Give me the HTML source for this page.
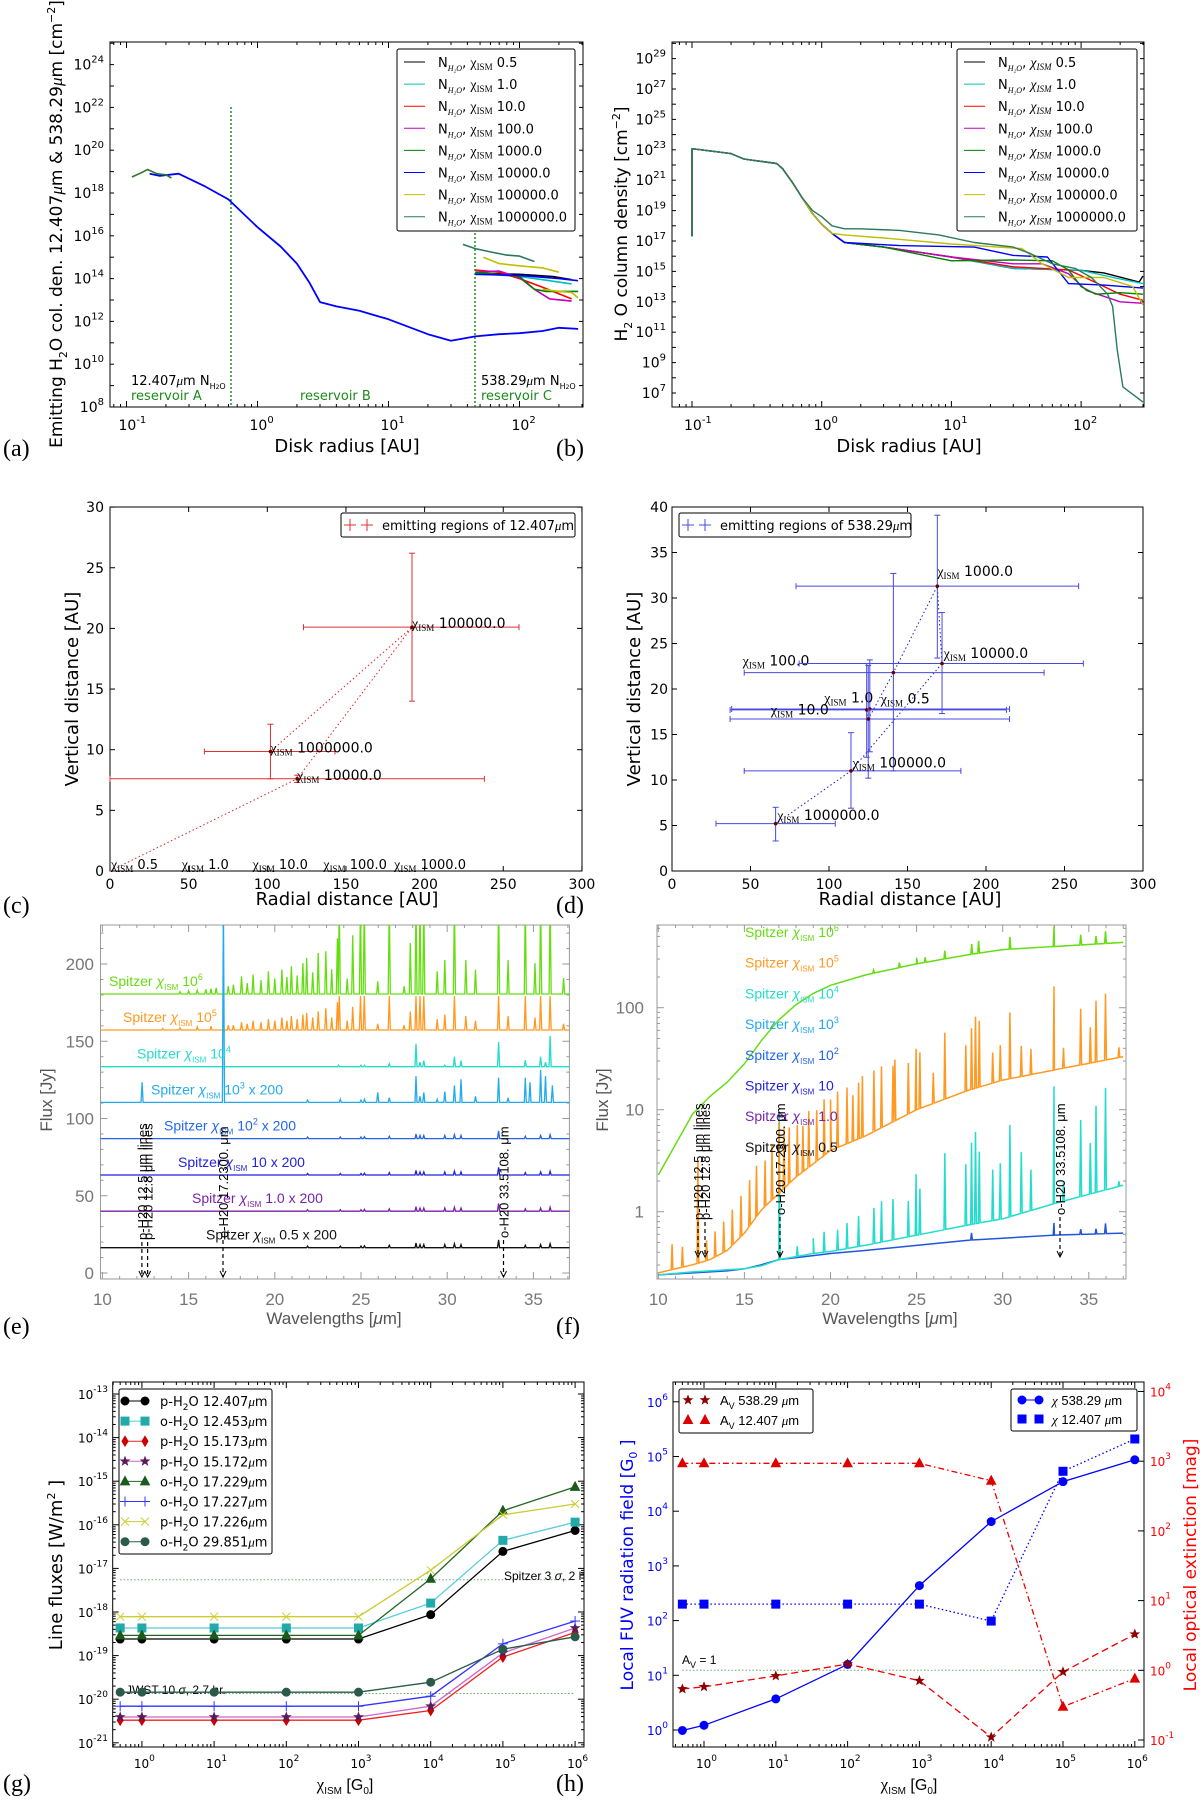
<!DOCTYPE html>
<html><head><meta charset="utf-8"><title>H2O emission figure</title>
<style>
html,body{margin:0;padding:0;background:#fff;}
svg{display:block;font-family:"DejaVu Sans","Liberation Sans",sans-serif;}
.idl{font-family:"Liberation Sans","DejaVu Sans",sans-serif;}
.ser{font-family:"Liberation Serif","DejaVu Serif",serif;}
</style></head>
<body>
<svg id="fig" xmlns="http://www.w3.org/2000/svg" width="1200" height="1801" viewBox="0 0 1200 1801">
<defs>
<clipPath id="clipA"><rect x="110" y="42" width="473" height="365"/></clipPath>
<clipPath id="clipB"><rect x="672" y="42" width="472" height="365"/></clipPath>
<clipPath id="clipE"><rect x="100.5" y="925" width="469" height="354"/></clipPath>
<clipPath id="clipF"><rect x="657" y="925" width="469" height="354"/></clipPath>
</defs>
</svg>
<script>
// ---------------- DATA ----------------
// Panel (a)
const aBlueR=[0.15,0.18,0.25,0.4,0.6,1,1.5,2,2.5,3,4,6,10,20,30,46,70,100,150,200,280];
const aBlueLogN=[18.9,18.8,18.9,18.3,17.7,16.4,15.5,14.7,13.8,12.9,12.7,12.5,12.1,11.4,11.1,11.3,11.4,11.45,11.55,11.7,11.65];
const aGreenR=[0.11,0.13,0.145,0.17,0.2,0.22];
const aGreenLogN=[18.75,18.95,19.1,18.9,18.85,18.7];
const aTealR=[37,46,60,80,100,130];   const aTealLogN=[15.6,15.4,15.25,15.1,15.05,14.8];
const aYellowR=[53,70,100,150,200];   const aYellowLogN=[15.0,14.7,14.6,14.5,14.3];
const aYellow2R=[150,200,250,280];     const aYellow2LogN=[13.5,13.4,13.35,13.1];
const aRedR=[46,70,100,150,250];      const aRedLogN=[14.4,14.3,14.0,13.6,13.05];
const aMagR=[46,70,100,130,170,250];  const aMagLogN=[14.3,14.35,14.05,13.5,13.05,12.95];
const aBlackR=[46,100,180,250];       const aBlackLogN=[14.25,14.2,14.1,13.95];
const aCyanR=[46,100,150,250];        const aCyanLogN=[14.25,14.1,13.95,13.75];
const aBlue2R=[46,100,200,280];       const aBlue2LogN=[14.2,14.15,14.0,13.9];
const aGreen2R=[46,100,130,160,280];  const aGreen2LogN=[14.3,14.1,13.5,13.4,13.4];
// Panel (b)
const bCommonR=[0.1,0.1,0.2,0.25,0.3,0.45,0.5,0.6,0.7,0.85,1.0,1.2];
const bCommonLogN=[17.3,23.07,22.75,22.4,22.3,22.1,21.75,20.8,19.9,18.8,18.1,17.5];
const bBlackR=[1.5,3,10,30,100,150,280,300];        const bBlackLogN=[16.9,16.6,15.95,15.2,15.07,14.9,14.3,14.7];
const bCyanR=[1.5,3,10,30,100,200,300];             const bCyanLogN=[16.9,16.6,15.95,15.2,15.07,14.5,14.2];
const bRedR=[1.5,3,10,30,80,120,200,300];           const bRedLogN=[16.9,16.6,15.95,15.3,15.1,14.4,13.5,13.1];
const bMagR=[1.5,3,10,30,50,80,110,200,300];        const bMagLogN=[16.9,16.6,15.95,15.5,15.5,14.85,13.75,13.0,12.9];
const bGreenR=[1.5,3,10,30,60,80,100,130,200,300];  const bGreenLogN=[16.9,16.6,15.7,15.75,15.7,15.1,14.0,13.5,13.6,13.5];
const bBlueR=[1.5,4,15,30,55,80,150,300];           const bBlueLogN=[16.9,16.7,16.6,16.05,15.95,14.2,14.1,13.9];
const bYellowR=[1.5,3,10,35,50,80,150,250,300];     const bYellowLogN=[17.4,17.2,16.8,16.5,15.5,14.6,14.6,14.0,12.8];
const bTealR=[0.85,1.0,1.2,1.5,2,4,8,15,30,40,60,90,120,160,175,190,210,300];
const bTealLogN=[19.0,18.6,18.0,17.8,17.8,17.7,17.4,16.9,16.6,16.2,15.5,15.2,14.6,13.5,12.7,9.8,7.4,6.4];
// Panel (c)
const cLabels=["1000000.0","10000.0","100000.0"];
const cX=[102,119,192], cY=[9.85,7.6,20.1];
const cXlo=[60,0,123], cXhi=[143,238,260], cYlo=[7.6,7.3,14.0], cYhi=[12.1,7.9,26.2];
const cPathX=[0,119,192,102], cPathY=[0,7.6,20.1,9.85];
const cZeroLabels=["0.5","1.0","10.0","100.0","1000.0"];
const cZeroX=[0,45,90,135,180];
// Panel (d)
const dLabels=["0.5","1.0","10.0","100.0","1000.0","10000.0","100000.0","1000000.0"];
const dX=[126,124,125,141,169,172,114,66];
const dY=[17.8,17.7,16.7,21.8,31.3,22.8,11.0,5.2];
const dXlo=[38,37,37,46,79,81,46,28], dXhi=[215,213,215,237,259,262,184,104];
const dYlo=[13.1,12.5,10.2,11.0,23.4,17.3,6.9,3.3], dYhi=[23.2,22.8,22.6,32.7,39.1,28.4,15.2,7.0];
const dLabX=[133,97,63,45,169,173,115,67], dLabY=[18.4,18.5,17.2,22.6,32.4,23.4,11.4,5.6];
// Panel (e) : [wavelength, amplitude Jy]
const eGreenLines=[[14.5,1.5],[15,2],[15.5,2.5],[16,3],[16.3,3.5],[16.6,4],[17.3,5],[17.6,6],[18.07,11.4],[18.4,7],[18.74,12.5],[19.2,9],[19.63,14.7],[20.0,10],[20.41,15.7],[20.7,11],[20.96,17.9],[21.3,12],[21.63,20],[21.85,23.3],[22.2,14],[22.52,26.5],[22.96,27.6],[23.3,16],[23.63,36],[23.74,60],[24.2,10],[24.52,38],[24.97,60],[25.19,60],[25.97,8.2],[26.64,60],[27.5,5],[27.86,33],[28.19,60],[28.42,60],[28.64,60],[29.42,14.7],[29.86,22],[30.42,60],[31.08,22],[31.64,15.7],[32.98,60],[33.53,22],[34.53,60],[35.09,20],[35.42,60],[35.97,60],[36.75,10.3]];
const eOrangeLines=[[13.5,1],[14.5,1.5],[15.5,2],[16.3,2.5],[17.3,3],[17.6,3],[18.07,5],[18.4,4],[18.74,6],[19.2,5],[19.63,7],[20.0,6],[20.41,8],[20.7,6],[20.96,9],[21.3,7],[21.63,10],[21.85,11],[22.2,8],[22.52,12],[22.96,14],[23.3,8],[23.63,18],[23.74,22],[24.2,6],[24.52,15],[24.97,22],[25.19,22],[25.97,4],[26.64,22],[27.5,3],[27.86,12],[28.19,22],[28.42,22],[28.64,22],[29.42,7],[29.86,10],[30.42,22],[31.08,9],[31.64,6],[32.98,22],[33.53,9],[34.53,22],[35.09,8],[35.42,22],[35.97,22],[36.75,4]];
const eTurqLines=[[23.7,1],[25.0,1],[25.2,1],[26.64,2],[28.19,15],[28.42,3],[28.64,4],[29.86,1],[30.42,6.5],[30.8,4],[32.98,16],[34.53,4.3],[35.42,6.5],[35.7,3],[35.97,20]];
const eLBlueLines=[[12.3,13],[17.02,130],[21.9,1.5],[23.8,2],[25.0,1.5],[25.2,2],[25.97,6.5],[26.64,3],[28.19,17],[28.42,4],[28.64,6.5],[29.42,2],[29.86,7],[30.42,11],[30.8,15],[31.64,4],[32.98,16],[33.53,3],[34.53,16],[34.8,13],[35.42,21],[35.7,17],[36.1,11]];
const eWeakLines=[[21.9,1],[23.8,1],[25.0,1],[25.2,1.2],[26.64,1.5],[28.19,3],[28.42,2],[28.64,2],[29.86,2],[30.42,2.5],[30.8,2],[32.98,5],[34.53,1.5],[35.42,2],[35.97,2.5]];
const eBaselines=[180.6,157.3,133.5,110.4,87,63.4,40,16.4];
// Panel (f)
const fContWl=[10,12,13,14,15,16,17,18,19,20,22,25,28,30,33,37];
const fGreenLog=[0.36,0.96,1.13,1.27,1.45,1.68,1.88,2.03,2.14,2.22,2.32,2.43,2.52,2.57,2.60,2.64];
const fOrangeLog=[-0.6,-0.52,-0.47,-0.38,-0.21,0.02,0.18,0.34,0.47,0.6,0.74,1.0,1.19,1.29,1.39,1.52];
const fTurqLog=[-0.62,-0.59,-0.58,-0.57,-0.56,-0.53,-0.47,-0.44,-0.41,-0.39,-0.33,-0.23,-0.13,-0.07,0.08,0.26];
const fBlueLog=[-0.62,-0.6,-0.59,-0.58,-0.56,-0.52,-0.47,-0.45,-0.43,-0.41,-0.38,-0.33,-0.28,-0.26,-0.23,-0.21];
const fGreenLines=[[22.5,0.03],[24,0.05],[25,0.06],[25.5,0.05],[26.64,0.08],[28.2,0.1],[28.6,0.12],[30.42,0.12],[32.98,0.2],[34.53,0.1],[35.42,0.08],[35.97,0.12]];
const fOrangeLines=[[10.8,0.25],[11.4,0.2],[12.3,1.0],[12.8,0.2],[13.3,0.25],[13.8,0.3],[14.3,0.35],[14.8,0.4],[15.3,0.45],[15.7,0.5],[16.2,0.45],[16.6,0.55],[17.0,0.7],[17.3,0.6],[17.6,0.55],[18.07,0.5],[18.4,0.45],[18.74,0.55],[19.2,0.5],[19.63,0.55],[20.0,0.5],[20.41,0.55],[20.96,0.55],[21.3,0.45],[21.63,0.55],[21.85,0.6],[22.52,0.6],[22.96,0.6],[23.63,0.55],[23.74,0.6],[24.52,0.5],[24.97,0.6],[25.19,0.55],[25.97,0.3],[26.64,0.65],[27.86,0.45],[28.19,0.6],[28.42,0.7],[28.64,0.65],[29.42,0.3],[29.86,0.35],[30.42,0.65],[31.08,0.3],[31.64,0.25],[32.98,0.82],[33.53,0.2],[34.53,0.55],[35.09,0.35],[35.42,0.6],[35.97,0.65],[36.75,0.1]];
const fTurqLines=[[17.02,1.45],[18.07,0.1],[19.0,0.15],[19.63,0.2],[20.41,0.2],[20.96,0.25],[21.63,0.3],[22.52,0.35],[22.96,0.4],[23.63,0.4],[24.52,0.35],[24.97,0.6],[25.19,0.45],[26.64,0.75],[27.86,0.6],[28.19,0.8],[28.42,0.9],[28.64,0.7],[29.42,0.5],[29.86,0.55],[30.42,0.9],[31.08,0.6],[31.64,0.4],[32.98,1.15],[33.53,0.2],[34.53,0.75],[35.09,0.5],[35.42,0.85],[35.97,1.0],[36.75,0.05]];
const fBlueLines=[[28.19,0.07],[32.98,0.12],[34.53,0.05],[35.42,0.05],[35.97,0.1]];
// Panel (g)
const gChi=[0.5,1,10,100,1000,1e4,1e5,1e6];
const gBlack=[2.4e-19,2.4e-19,2.4e-19,2.4e-19,2.4e-19,8.7e-19,2.45e-17,7.4e-17];
const gCyan=[4.3e-19,4.3e-19,4.3e-19,4.3e-19,4.3e-19,1.6e-18,4.4e-17,1.15e-16];
const gRed=[3.3e-21,3.3e-21,3.3e-21,3.3e-21,3.3e-21,5.5e-21,9.3e-20,3.4e-19];
const gPurple=[3.9e-21,3.9e-21,3.9e-21,3.9e-21,3.9e-21,6.9e-21,1.15e-19,4.3e-19];
const gGreen=[2.9e-19,2.9e-19,2.9e-19,2.9e-19,2.9e-19,5.8e-18,2.1e-16,7.4e-16];
const gBlue=[6.9e-21,6.9e-21,6.9e-21,6.9e-21,6.9e-21,1.17e-20,1.86e-19,6.2e-19];
const gYellow=[7.8e-19,7.8e-19,7.8e-19,7.8e-19,7.8e-19,9.1e-18,1.7e-16,3.0e-16];
const gTeal=[1.45e-20,1.45e-20,1.45e-20,1.45e-20,1.45e-20,2.45e-20,1.4e-19,2.7e-19];
const gSpitzer=5.5e-18, gJWST=1.35e-20;
// Panel (h)
const hChi=[0.5,1,10,100,1000,1e4,1e5,1e6];
const hChiCircle=[0.98,1.22,3.7,15.8,437,6460,34700,87000];
const hChiSquare=[200,200,200,200,200,98,53700,209000];
const hAvStar=[0.54,0.58,0.83,1.23,0.71,0.11,0.95,3.3];
const hAvTri=[933,933,933,933,933,525,0.3,0.76];

// ---------------- HELPERS ----------------
const NS='http://www.w3.org/2000/svg';
const svg=document.getElementById('fig');
function el(tag,attrs,parent){const e=document.createElementNS(NS,tag);for(const k in attrs)e.setAttribute(k,attrs[k]);(parent||svg).appendChild(e);return e;}
function txt(x,y,s,attrs,parent){const e=el('text',Object.assign({x:x,y:y},attrs||{}),parent);e.innerHTML=s;return e;}
const L10=Math.log10;
function pathD(xs,ys){return xs.map((x,i)=>(i?'L':'M')+x.toFixed(1)+' '+ys[i].toFixed(1)).join(' ');}
function sup(e){return '10<tspan dy="-7" font-size="10">'+e+'</tspan>';}
function frame(x0,y0,x1,y1,name,col){
  const r=el('rect',{x:x0,y:y0,width:x1-x0,height:y1-y0,fill:'none',stroke:col||'#000','stroke-width':1});
  
  
}
function tick(x1,y1,x2,y2,col,parent){el('line',{x1:x1,y1:y1,x2:x2,y2:y2,stroke:col||'#000','stroke-width':1},parent);}
function xTicks(pxs,y0,y1,len,col){pxs.forEach(p=>{tick(p,y1,p,y1-len,col);tick(p,y0,p,y0+len,col);});}
function yTicks(pys,x0,x1,len,col){pys.forEach(p=>{tick(x0,p,x0+len,p,col);tick(x1,p,x1-len,p,col);});}
function minorLog(lo,hi,f){const out=[];for(let d=Math.floor(lo);d<=hi;d++)for(let m=2;m<10;m++){const v=d+L10(m);if(v>lo&&v<hi)out.push(f(v));}return out;}
function label(x,y,s,attrs,name){const t=txt(x,y,s,attrs);
  
  
  return t;}

// ================ PANEL (a) ================
const axA=v=>126.5+(v+1)*131, ayA=n=>407-(n-8)*21.4;
frame(110,42,583,407,'panel-a-frame');
for(let e=8;e<=24;e+=2){label(104,ayA(e)+5,sup(e),{'text-anchor':'end','font-size':14},'a-y-tick-label');}
yTicks([8,9,10,11,12,13,14,15,16,17,18,19,20,21,22,23,24,25].map(ayA),110,583,4);
[-1,0,1,2].forEach(e=>{label(axA(e)-8,430,sup(e),{'font-size':14},'a-x-tick-label');});
xTicks([-1,0,1,2].map(axA),42,407,6);xTicks(minorLog(-1.126,2.488,axA),42,407,3);
label(347,452,'Disk radius [AU]',{'text-anchor':'middle','font-size':18},'a-x-axis-title');
label(0,0,'Emitting H<tspan dy="5" font-size="11">2</tspan><tspan dy="-5">O col. den. 12.407</tspan><tspan font-family="Liberation Serif" font-style="italic">μ</tspan>m &amp; 538.29<tspan font-family="Liberation Serif" font-style="italic">μ</tspan>m [cm<tspan dy="-7" font-size="11">−2</tspan><tspan dy="7">]</tspan>',{'text-anchor':'middle','font-size':17,transform:'translate(62,224) rotate(-90)'},'a-y-axis-title');
const gA=el('g',{'clip-path':'url(#clipA)'});


[[231,107],[475,233]].forEach(p=>{const l=el('line',{x1:p[0],y1:p[1],x2:p[0],y2:407,stroke:'#007a00','stroke-width':1.3,'stroke-dasharray':'2,2'},gA);

});
function aLine(R,N,col,name,ax,ay,g,w){const p=el('path',{d:pathD(R.map(r=>ax(L10(r))),N.map(ay)),fill:'none',stroke:col,'stroke-width':w||1.6,'stroke-linejoin':'round'},g);

}
aLine(aBlueR,aBlueLogN,'#0000ff','a-series-blue-emitting',axA,ayA,gA,1.8);
aLine(aGreenR,aGreenLogN,'#2a7a2a','a-series-inner-green',axA,ayA,gA);
aLine(aBlackR,aBlackLogN,'#000','a-series-chi-0.5',axA,ayA,gA);
aLine(aCyanR,aCyanLogN,'#00bfbf','a-series-chi-1',axA,ayA,gA);
aLine(aRedR,aRedLogN,'#ff0000','a-series-chi-10',axA,ayA,gA);
aLine(aMagR,aMagLogN,'#bf00bf','a-series-chi-100',axA,ayA,gA);
aLine(aGreen2R,aGreen2LogN,'#008000','a-series-chi-1000',axA,ayA,gA);
aLine(aBlue2R,aBlue2LogN,'#0000ff','a-series-chi-1e4',axA,ayA,gA);
aLine(aYellowR,aYellowLogN,'#bfbf00','a-series-chi-1e5',axA,ayA,gA);
aLine(aYellow2R,aYellow2LogN,'#bfbf00','a-series-chi-1e5-b',axA,ayA,gA);
aLine(aTealR,aTealLogN,'#2a7a5a','a-series-chi-1e6',axA,ayA,gA);
label(131,385,'12.407<tspan font-family="Liberation Serif" font-style="italic">μ</tspan>m N<tspan dy="4" font-size="8">H<tspan font-size="6">2</tspan>O</tspan>',{'font-size':13},'a-annot-12um');
label(131,400,'reservoir A',{'font-size':13,fill:'#1a8a1a'},'a-reservoir-a');
label(300,400,'reservoir B',{'font-size':13,fill:'#1a8a1a'},'a-reservoir-b');
label(481,385,'538.29<tspan font-family="Liberation Serif" font-style="italic">μ</tspan>m N<tspan dy="4" font-size="8">H<tspan font-size="6">2</tspan>O</tspan>',{'font-size':13},'a-annot-538um');
label(481,400,'reservoir C',{'font-size':13,fill:'#1a8a1a'},'a-reservoir-c');
const legCols=['#000','#00bfbf','#ff0000','#bf00bf','#008000','#0000ff','#bfbf00','#2a7a5a'];
const legVals=['0.5','1.0','10.0','100.0','1000.0','10000.0','100000.0','1000000.0'];
function bigLegend(x0,y0,x1,y1,name,italic){
  const r=el('rect',{x:x0,y:y0,width:x1-x0,height:y1-y0,fill:'#fff',stroke:'#000','stroke-width':1,rx:2});
  
  
  legVals.forEach((v,i)=>{const y=y0+13+i*22.1;
    tick(x0+7,y,x0+28,y,legCols[i]);
    const ch=italic?'<tspan font-family="Liberation Serif" font-style="italic" font-size="14">χ</tspan><tspan font-family="Liberation Serif" font-style="italic" dy="3" font-size="9">ISM</tspan>':'<tspan font-family="Liberation Serif" font-size="14">χ</tspan><tspan font-family="Liberation Serif" dy="3" font-size="9">ISM</tspan>';
    label(x0+41,y+5,'N<tspan dy="4" font-size="8" font-family="Liberation Serif" font-style="italic">H₂O</tspan><tspan dy="-4">, </tspan>'+ch+'<tspan dy="-3"> '+v+'</tspan>',{'font-size':13},'legend-entry');
  });
}
bigLegend(397,49,575,231,'a-legend',false);
label(3,456,'(a)',{'font-size':24,class:'ser'},'panel-label-a');
label(556,456,'(b)',{'font-size':24,class:'ser'},'panel-label-b');

// ================ PANEL (b) ================
const axB=v=>692+(v+1)*129.7, ayB=n=>393-(n-7)*15.2;
frame(672,42,1144,407,'panel-b-frame');
for(let e=7;e<=29;e+=2){label(666,ayB(e)+5,sup(e),{'text-anchor':'end','font-size':14},'b-y-tick-label');}
yTicks([7,8,9,10,11,12,13,14,15,16,17,18,19,20,21,22,23,24,25,26,27,28,29,30].map(ayB),672,1144,4);
[-1,0,1,2].forEach(e=>{label(axB(e)-8,430,sup(e),{'font-size':14},'b-x-tick-label');});
xTicks([-1,0,1,2].map(axB),42,407,6);xTicks(minorLog(-1.15,2.48,axB),42,407,3);
label(909,452,'Disk radius [AU]',{'text-anchor':'middle','font-size':18},'b-x-axis-title');
label(0,0,'H<tspan dy="5" font-size="11">2</tspan><tspan dy="-5"> O column density [cm</tspan><tspan dy="-7" font-size="11">−2</tspan><tspan dy="7">]</tspan>',{'text-anchor':'middle','font-size':17,transform:'translate(627,224) rotate(-90)'},'b-y-axis-title');
const gB=el('g',{'clip-path':'url(#clipB)'});


const bSeries=[[bBlackR,bBlackLogN,'#000','b-series-chi-0.5'],[bCyanR,bCyanLogN,'#00bfbf','b-series-chi-1'],[bRedR,bRedLogN,'#ff0000','b-series-chi-10'],[bMagR,bMagLogN,'#bf00bf','b-series-chi-100'],[bGreenR,bGreenLogN,'#008000','b-series-chi-1000'],[bBlueR,bBlueLogN,'#0000ff','b-series-chi-1e4'],[bYellowR,bYellowLogN,'#bfbf00','b-series-chi-1e5']];
bSeries.forEach(s=>aLine(bCommonR.concat(s[0]),bCommonLogN.concat(s[1]),s[2],s[3],axB,ayB,gB,1.4));
aLine(bCommonR.slice(0,9).concat(bTealR),bCommonLogN.slice(0,9).concat(bTealLogN),'#2a7a5a','b-series-chi-1e6',axB,ayB,gB,1.4);
bigLegend(957,49,1137,231,'b-legend',true);

// ================ PANEL (c) ================
const axC=v=>110+v*1.573, ayC=v=>871-v*12.13;
frame(110,507,582,871,'panel-c-frame');
[0,5,10,15,20,25,30].forEach(v=>label(104,ayC(v)+5,String(v),{'text-anchor':'end','font-size':14},'c-y-tick-label'));
yTicks([0,5,10,15,20,25,30].map(ayC),110,582,5);
[0,50,100,150,200,250,300].forEach(v=>label(axC(v),889,String(v),{'text-anchor':'middle','font-size':14},'c-x-tick-label'));
xTicks([0,50,100,150,200,250,300].map(axC),507,871,5);
label(347,905,'Radial distance [AU]',{'text-anchor':'middle','font-size':18},'c-x-axis-title');
label(0,0,'Vertical distance [AU]',{'text-anchor':'middle','font-size':18},'c-y-axis-title').setAttribute('transform','translate(78,689) rotate(-90)');
const cp=el('path',{d:pathD(cPathX.map(axC),cPathY.map(ayC)),fill:'none',stroke:'#e02020','stroke-width':1,'stroke-dasharray':'1.5,2.5'});


function errPt(ax,ay,x,y,xl,xh,yl,yh,col,name){
  const g=el('g',{stroke:col,'stroke-width':1.2});
  
  
  tick(ax(xl),ay(y),ax(xh),ay(y),col);tick(ax(xl),ay(y)-3,ax(xl),ay(y)+3,col);tick(ax(xh),ay(y)-3,ax(xh),ay(y)+3,col);
  tick(ax(x),ay(yl),ax(x),ay(yh),col);tick(ax(x)-3,ay(yl),ax(x)+3,ay(yl),col);tick(ax(x)-3,ay(yh),ax(x)+3,ay(yh),col);
  el('circle',{cx:ax(x),cy:ay(y),r:1.8,fill:'#600'});
}
const chiT='<tspan font-family="Liberation Serif" font-size="14">χ</tspan><tspan font-family="Liberation Serif" font-size="9" dy="3">ISM</tspan>';
cX.forEach((x,i)=>{errPt(axC,ayC,x,cY[i],cXlo[i],cXhi[i],cYlo[i],cYhi[i],'#e03030','c-error-point');
  label(axC(x),ayC(cY[i])+1,chiT+'<tspan dy="-3"> '+cLabels[i]+'</tspan>',{'font-size':14},'c-point-label');});
cZeroX.forEach((x,i)=>label(axC(x)+1,ayC(0)-2,chiT+'<tspan dy="-3"> '+cZeroLabels[i]+'</tspan>',{'font-size':13},'c-zero-label'));
(function(){const r=el('rect',{x:341,y:513,width:234,height:24,fill:'#fff',stroke:'#000',rx:2});


[350,367].forEach(x=>{tick(x-6,525,x+6,525,'#e03030');tick(x,519,x,531,'#e03030');});
label(382,530,'emitting regions of 12.407<tspan font-family="Liberation Serif" font-style="italic">μ</tspan>m',{'font-size':13},'c-legend-entry');})();
label(3,913,'(c)',{'font-size':24,class:'ser'},'panel-label-c');
label(556,913,'(d)',{'font-size':24,class:'ser'},'panel-label-d');

// ================ PANEL (d) ================
const axD=v=>672+v*1.57, ayD=v=>871-v*9.1;
frame(672,507,1143,871,'panel-d-frame');
[0,5,10,15,20,25,30,35,40].forEach(v=>label(668,ayD(v)+5,String(v),{'text-anchor':'end','font-size':14},'d-y-tick-label'));
yTicks([0,5,10,15,20,25,30,35,40].map(ayD),672,1143,5);
[0,50,100,150,200,250,300].forEach(v=>label(axD(v),889,String(v),{'text-anchor':'middle','font-size':14},'d-x-tick-label'));
xTicks([0,50,100,150,200,250,300].map(axD),507,871,5);
label(910,905,'Radial distance [AU]',{'text-anchor':'middle','font-size':18},'d-x-axis-title');
label(0,0,'Vertical distance [AU]',{'text-anchor':'middle','font-size':18},'d-y-axis-title').setAttribute('transform','translate(640,689) rotate(-90)');
const dp=el('path',{d:pathD(dX.map(axD),dY.map(ayD)),fill:'none',stroke:'#2020c0','stroke-width':1,'stroke-dasharray':'1.5,2.5'});


dX.forEach((x,i)=>{errPt(axD,ayD,x,dY[i],dXlo[i],dXhi[i],dYlo[i],dYhi[i],'#4848e0','d-error-point');
  label(axD(dLabX[i]),ayD(dLabY[i]),chiT+'<tspan dy="-3"> '+dLabels[i]+'</tspan>',{'font-size':14},'d-point-label');});
(function(){const r=el('rect',{x:679,y:513,width:232,height:24,fill:'#fff',stroke:'#000',rx:2});


[688,705].forEach(x=>{tick(x-6,525,x+6,525,'#4848e0');tick(x,519,x,531,'#4848e0');});
label(720,530,'emitting regions of 538.29<tspan font-family="Liberation Serif" font-style="italic">μ</tspan>m',{'font-size':13},'d-legend-entry');})();

// ================ PANEL (e) ================
const GREY='#777';
const axE=w=>102.4+(w-10)*17.24, ayE=f=>1273-f*1.545;
frame(100.5,925,569.4,1279,'panel-e-frame','#999');
[0,50,100,150,200].forEach(v=>label(94,ayE(v)+6,String(v),{'text-anchor':'end','font-size':17,fill:GREY,class:'idl'},'e-y-tick-label'));
yTicks([0,50,100,150,200].map(ayE),100.5,569.4,7,'#999');
const eMinY=[];for(let v=10;v<=220;v+=10)if(v%50)eMinY.push(ayE(v));yTicks(eMinY,100.5,569.4,3,'#999');
[10,15,20,25,30,35].forEach(v=>label(axE(v),1305,String(v),{'text-anchor':'middle','font-size':17,fill:GREY,class:'idl'},'e-x-tick-label'));
xTicks([10,15,20,25,30,35].map(axE),925,1279,7,'#999');
const eMinX=[];for(let v=11;v<=37;v++)if(v%5)eMinX.push(axE(v));xTicks(eMinX,925,1279,3,'#999');
label(334,1324,'Wavelengths [<tspan font-style="italic">μ</tspan>m]',{'text-anchor':'middle','font-size':17,fill:'#555',class:'idl'},'e-x-axis-title');
label(0,0,'Flux [Jy]',{'text-anchor':'middle','font-size':17,fill:'#555',class:'idl',transform:'translate(52,1100) rotate(-90)'},'e-y-axis-title');
const gE=el('g',{'clip-path':'url(#clipE)'});


function specPath(lines,base,ax,ay,w){let d='M'+ax(9.8).toFixed(1)+' '+ay(base).toFixed(1);
  lines.slice().sort((a,b)=>a[0]-b[0]).forEach(l=>{d+=' L'+ax(l[0]-w).toFixed(1)+' '+ay(base).toFixed(1)+' L'+ax(l[0]).toFixed(1)+' '+ay(base+l[1]).toFixed(1)+' L'+ax(l[0]+w).toFixed(1)+' '+ay(base).toFixed(1);});
  return d+' L'+ax(37.3).toFixed(1)+' '+ay(base).toFixed(1);}
const eCols=['#66dd11','#ff9922','#22ddcc','#22aaee','#2266ee','#2222dd','#7722aa','#111'];
const eLines=[eGreenLines,eOrangeLines,eTurqLines,eLBlueLines,eWeakLines,eWeakLines,eWeakLines,eWeakLines];
const eNames=['10<tspan dy="-6" font-size="9">6</tspan>','10<tspan dy="-6" font-size="9">5</tspan>','10<tspan dy="-6" font-size="9">4</tspan>','10<tspan dy="-6" font-size="9">3</tspan><tspan dy="6"> x</tspan>','10<tspan dy="-6" font-size="9">2</tspan><tspan dy="6"> x</tspan>','10 x','1.0 x','0.5 x'];
eBaselines.forEach((b,i)=>{const p=el('path',{d:specPath(eLines[i],b,axE,ayE,0.06),fill:'none',stroke:eCols[i],'stroke-width':1.3},gE);

});
const eLx=[109,123,137,151,164,178,192,206];
eBaselines.forEach((b,i)=>{const y=ayE(b)-8;
  label(eLx[i],y,'Spitzer  <tspan font-style="italic">χ</tspan><tspan dy="4" font-size="8">ISM</tspan><tspan dy="-4">  '+eNames[i]+'</tspan>'+(i>=3?'<tspan>          200</tspan>':''),{'font-size':14,fill:eCols[i],class:'idl','xml:space':'preserve'},'e-series-label');});
function arrowAnnot(x,yTxtTop,yTxtBot,yEnd,s,name,fs){
  const l=el('line',{x1:x,y1:yTxtBot+2,x2:x,y2:yEnd,stroke:'#000','stroke-width':1.2,'stroke-dasharray':'4,3'});
  
  
  el('path',{d:'M'+(x-3)+' '+(yEnd-6)+' L'+x+' '+yEnd+' L'+(x+3)+' '+(yEnd-6),fill:'none',stroke:'#000'});
  const t=txt(0,0,s,{'font-size':fs||13,class:'idl','text-anchor':'start',transform:'translate('+(x+5)+','+yTxtBot+') rotate(-90)'});
  
  
}
arrowAnnot(141.9,1120,1240,1277,'p-H20 12.5 μm lines','e-annot-12.5');
arrowAnnot(147.6,1120,1240,1277,'p-H20 12.8 μm lines','e-annot-12.8');
arrowAnnot(223,1123,1238,1277,'o-H20 17.2300. μm','e-annot-17.2');
arrowAnnot(503.5,1123,1238,1277,'o-H20 33.5108. μm','e-annot-33.5');
label(3,1334,'(e)',{'font-size':24,class:'ser'},'panel-label-e');
label(556,1334,'(f)',{'font-size':24,class:'ser'},'panel-label-f');

// ================ PANEL (f) ================
const axF=w=>658.3+(w-10)*17.22, ayF=lf=>1211.7-lf*102;
frame(657,925,1126,1279,'panel-f-frame','#999');
[[0,'1'],[1,'10'],[2,'100']].forEach(t=>label(644,ayF(t[0])+6,t[1],{'text-anchor':'end','font-size':17,fill:GREY,class:'idl'},'f-y-tick-label'));
yTicks([0,1,2].map(ayF),657,1126,7,'#999');yTicks(minorLog(-0.66,2.8,ayF),657,1126,3,'#999');
[10,15,20,25,30,35].forEach(v=>label(axF(v),1305,String(v),{'text-anchor':'middle','font-size':17,fill:GREY,class:'idl'},'f-x-tick-label'));
xTicks([10,15,20,25,30,35].map(axF),925,1279,7,'#999');
const fMinX=[];for(let v=11;v<=37;v++)if(v%5)fMinX.push(axF(v));xTicks(fMinX,925,1279,3,'#999');
label(890,1324,'Wavelengths [<tspan font-style="italic">μ</tspan>m]',{'text-anchor':'middle','font-size':17,fill:'#555',class:'idl'},'f-x-axis-title');
label(0,0,'Flux [Jy]',{'text-anchor':'middle','font-size':17,fill:'#555',class:'idl',transform:'translate(608,1100) rotate(-90)'},'f-y-axis-title');
const gF=el('g',{'clip-path':'url(#clipF)'});


function interp(xs,ys,x){for(let i=1;i<xs.length;i++)if(x<=xs[i]){const t=(x-xs[i-1])/(xs[i]-xs[i-1]);return ys[i-1]+t*(ys[i]-ys[i-1]);}return ys[ys.length-1];}
function logSpec(cont,lines){const pts=[];fContWl.forEach((w,i)=>pts.push([w,cont[i]]));
  lines.forEach(l=>{const c=interp(fContWl,cont,l[0]);pts.push([l[0]-0.05,interp(fContWl,cont,l[0]-0.05)],[l[0],c+l[1]],[l[0]+0.05,interp(fContWl,cont,l[0]+0.05)]);});
  pts.sort((a,b)=>a[0]-b[0]);return pathD(pts.map(p=>axF(p[0])),pts.map(p=>ayF(p[1])));}
[[fBlueLog,fBlueLines,'#2255dd','f-spectrum-low-chi'],[fTurqLog,fTurqLines,'#22ddcc','f-spectrum-1e4'],[fOrangeLog,fOrangeLines,'#ff9922','f-spectrum-1e5'],[fGreenLog,fGreenLines,'#66dd11','f-spectrum-1e6']].forEach(s=>{
  const p=el('path',{d:logSpec(s[0],s[1]),fill:'none',stroke:s[2],'stroke-width':1.5},gF);
  
  });
const fNames=['10<tspan dy="-6" font-size="9">6</tspan>','10<tspan dy="-6" font-size="9">5</tspan>','10<tspan dy="-6" font-size="9">4</tspan>','10<tspan dy="-6" font-size="9">3</tspan>','10<tspan dy="-6" font-size="9">2</tspan>','10','1.0','0.5'];
const fCols=['#66dd11','#ff9922','#22ddcc','#22aaee','#2266ee','#2222dd','#7722aa','#111'];
fNames.forEach((n,i)=>label(745,937+i*30.7,'Spitzer  <tspan font-style="italic">χ</tspan><tspan dy="4" font-size="8">ISM</tspan><tspan dy="-4">  '+n+'</tspan>',{'font-size':14,fill:fCols[i],class:'idl'},'f-series-label'));
arrowAnnot(698,1097,1220,1257,'p-H20 12.5 μm lines','f-annot-12.5');
arrowAnnot(705,1097,1220,1257,'p-H20 12.8 μm lines','f-annot-12.8');
arrowAnnot(780,1102,1215,1257,'o-H20 17.2300. μm','f-annot-17.2');
arrowAnnot(1060,1102,1215,1257,'o-H20 33.5108. μm','f-annot-33.5');

// ================ PANEL (g) ================
const axG=c=>141.9+L10(c)*72.2, ayG=f=>1394-(L10(f)+13)*43.6;
frame(112.7,1382,584,1747,'panel-g-frame');
for(let e=-21;e<=-13;e++)label(108,ayG(Math.pow(10,e))+5,'10<tspan dy="-7" font-size="9">'+e+'</tspan>',{'text-anchor':'end','font-size':12},'g-y-tick-label');
yTicks([-21,-20,-19,-18,-17,-16,-15,-14,-13].map(e=>ayG(Math.pow(10,e))),112.7,584,6);
yTicks(minorLog(-21.09,-12.72,v=>1394-(v+13)*43.6),112.7,584,3);
for(let e=0;e<=6;e++)label(axG(Math.pow(10,e))-8,1768,'10<tspan dy="-7" font-size="9">'+e+'</tspan>',{'font-size':12},'g-x-tick-label');
xTicks([0,1,2,3,4,5,6].map(e=>axG(Math.pow(10,e))),1382,1747,6);
xTicks(minorLog(-0.405,6.12,v=>141.9+v*72.2),1382,1747,3);
label(345,1790,'<tspan font-family="Liberation Serif" font-size="17">χ</tspan><tspan font-size="10" dy="4">ISM</tspan><tspan dy="-4"> [G</tspan><tspan font-size="10" dy="4">0</tspan><tspan dy="-4">]</tspan>',{'text-anchor':'middle','font-size':16,class:'idl'},'g-x-axis-title');
label(0,0,'Line fluxes [W/m<tspan dy="-7" font-size="11">2</tspan><tspan dy="7"> ]</tspan>',{'text-anchor':'middle','font-size':18,transform:'translate(62,1565) rotate(-90)'},'g-y-axis-title');
[[gSpitzer,'g-spitzer-limit'],[gJWST,'g-jwst-limit']].forEach(s=>{const l=el('line',{x1:axG(0.5),x2:axG(1e6),y1:ayG(s[0]),y2:ayG(s[0]),stroke:'#6a6','stroke-width':1,'stroke-dasharray':'1.5,2'});

});
label(504,1580,'Spitzer 3 <tspan font-style="italic">σ</tspan>, 2 h',{'font-size':12,class:'idl'},'g-spitzer-label');
label(126,1694,'JWST 10 <tspan font-style="italic">σ</tspan>, 2.7 hr.',{'font-size':12,class:'idl'},'g-jwst-label');
function marker(g,type,x,y,fc,ec){
  if(type==='o')el('circle',{cx:x,cy:y,r:4,fill:fc,stroke:ec},g);
  else if(type==='s')el('rect',{x:x-4,y:y-4,width:8,height:8,fill:fc,stroke:ec},g);
  else if(type==='d')el('path',{d:`M${x} ${y-5}L${x+3} ${y}L${x} ${y+5}L${x-3} ${y}Z`,fill:fc,stroke:ec},g);
  else if(type==='*'){let d='';for(let k=0;k<10;k++){const a=-Math.PI/2+k*Math.PI/5,r=k%2?2:4.8;d+=(k?'L':'M')+(x+r*Math.cos(a)).toFixed(1)+' '+(y+r*Math.sin(a)).toFixed(1);}el('path',{d:d+'Z',fill:fc,stroke:ec,'stroke-width':0.6},g);}
  else if(type==='^')el('path',{d:`M${x} ${y-5}L${x+4.5} ${y+3.5}L${x-4.5} ${y+3.5}Z`,fill:fc,stroke:ec},g);
  else if(type==='+'){el('line',{x1:x-5,y1:y,x2:x+5,y2:y,stroke:ec},g);el('line',{x1:x,y1:y-5,x2:x,y2:y+5,stroke:ec},g);}
  else if(type==='x'){el('line',{x1:x-4,y1:y-4,x2:x+4,y2:y+4,stroke:ec},g);el('line',{x1:x-4,y1:y+4,x2:x+4,y2:y-4,stroke:ec},g);}
}
const gSer=[[gBlack,'#000','#000','o','p-H<tspan dy="4" font-size="9">2</tspan><tspan dy="-4">O 12.407</tspan>'],[gCyan,'#5cd','#2aa','s','o-H<tspan dy="4" font-size="9">2</tspan><tspan dy="-4">O 12.453</tspan>'],[gRed,'#e22','#c00','d','p-H<tspan dy="4" font-size="9">2</tspan><tspan dy="-4">O 15.173</tspan>'],[gPurple,'#c6c','#5a1a5a','*','p-H<tspan dy="4" font-size="9">2</tspan><tspan dy="-4">O 15.172</tspan>'],[gGreen,'#262','#1a5a1a','^','o-H<tspan dy="4" font-size="9">2</tspan><tspan dy="-4">O 17.229</tspan>'],[gBlue,'#33f','#33f','+','o-H<tspan dy="4" font-size="9">2</tspan><tspan dy="-4">O 17.227</tspan>'],[gYellow,'#cc3','#cc3','x','p-H<tspan dy="4" font-size="9">2</tspan><tspan dy="-4">O 17.226</tspan>'],[gTeal,'#2a5a4a','#2a5a4a','o','o-H<tspan dy="4" font-size="9">2</tspan><tspan dy="-4">O 29.851</tspan>']];
gSer.forEach((s,i)=>{const g=el('g',{});
  
  
  el('path',{d:pathD(gChi.map(axG),s[0].map(ayG)),fill:'none',stroke:s[1],'stroke-width':1.3},g);
  gChi.forEach((c,j)=>marker(g,s[3],axG(c),ayG(s[0][j]),s[2],s[2]));});
(function(){const r=el('rect',{x:119,y:1389,width:153,height:165,fill:'#fff',stroke:'#000',rx:2});


gSer.forEach((s,i)=>{const y=1401+i*20.1;const g=el('g',{});tick(125,y,145,y,s[1],g);marker(g,s[3],125,y,s[2],s[2]);marker(g,s[3],145,y,s[2],s[2]);
  label(160,y+5,s[4]+'<tspan font-family="Liberation Serif" font-style="italic">μ</tspan>m',{'font-size':13},'g-legend-entry');});})();
label(3,1791,'(g)',{'font-size':24,class:'ser'},'panel-label-g');
label(556,1791,'(h)',{'font-size':24,class:'ser'},'panel-label-h');

// ================ PANEL (h) ================
const axH=c=>704+L10(c)*71.8, ayHL=v=>1730-L10(v)*54.7, ayHR=v=>1740-(L10(v)+1)*69.7;
frame(673,1382,1144,1747,'panel-h-frame');
for(let e=0;e<=6;e++)label(668,ayHL(Math.pow(10,e))+5,'10<tspan dy="-7" font-size="9">'+e+'</tspan>',{'text-anchor':'end','font-size':12,fill:'#00f'},'h-left-tick-label');
for(let e=-1;e<=4;e++)label(1150,ayHR(Math.pow(10,e))+5,'10<tspan dy="-7" font-size="9">'+e+'</tspan>',{'font-size':12,fill:'#f00'},'h-right-tick-label');
[0,1,2,3,4,5,6].forEach(e=>{tick(673,ayHL(Math.pow(10,e)),679,ayHL(Math.pow(10,e)));});
[-1,0,1,2,3,4].forEach(e=>{tick(1144,ayHR(Math.pow(10,e)),1138,ayHR(Math.pow(10,e)));});
for(let e=0;e<=6;e++)label(axH(Math.pow(10,e))-8,1768,'10<tspan dy="-7" font-size="9">'+e+'</tspan>',{'font-size':12},'h-x-tick-label');
xTicks([0,1,2,3,4,5,6].map(e=>axH(Math.pow(10,e))),1382,1747,6);
xTicks(minorLog(-0.43,6.1,v=>704+v*71.8),1382,1747,3);
label(909,1790,'<tspan font-family="Liberation Serif" font-size="17">χ</tspan><tspan font-size="10" dy="4">ISM</tspan><tspan dy="-4"> [G</tspan><tspan font-size="10" dy="4">0</tspan><tspan dy="-4">]</tspan>',{'text-anchor':'middle','font-size':16,class:'idl'},'h-x-axis-title');
label(0,0,'Local FUV radiation field [G<tspan dy="4" font-size="11">0</tspan><tspan dy="-4"> ]</tspan>',{'text-anchor':'middle','font-size':17,fill:'#00f',transform:'translate(633,1565) rotate(-90)'},'h-left-axis-title');
label(0,0,'Local optical extinction [mag]',{'text-anchor':'middle','font-size':17,fill:'#f00',transform:'translate(1196,1565) rotate(-90)'},'h-right-axis-title');
(function(){const l=el('line',{x1:axH(0.5),x2:axH(1e6),y1:ayHR(1),y2:ayHR(1),stroke:'#6a6','stroke-width':1,'stroke-dasharray':'1.5,2'});

})();
label(682,1664,'A<tspan dy="4" font-size="9">V</tspan><tspan dy="-4"> = 1</tspan>',{'font-size':12,class:'idl'},'h-av-label');
const hSer=[[hChiCircle,ayHL,'#00f','o','none','h-series-chi-538'],[hChiSquare,ayHL,'#00f','s','1.5,2.5','h-series-chi-12'],[hAvStar,ayHR,'#e00','*','7,4','h-series-av-538'],[hAvTri,ayHR,'#e00','^','6,3,1.5,3','h-series-av-12']];
const hMk=['#00f','#00f','#8b0000','#d00'];
hSer.forEach((s,i)=>{const g=el('g',{});
  
  
  const a={d:pathD(hChi.map(axH),s[0].map(s[1])),fill:'none',stroke:s[2],'stroke-width':1.3};if(s[4]!=='none')a['stroke-dasharray']=s[4];
  el('path',a,g);
  hChi.forEach((c,j)=>marker(g,s[3],axH(c),s[1](s[0][j]),hMk[i],hMk[i]));});
(function(){const r=el('rect',{x:679,y:1389,width:134,height:44,fill:'#fff',stroke:'#000',rx:2});


const g=el('g',{});marker(g,'*',688,1400,'#8b0000','#8b0000');marker(g,'*',705,1400,'#8b0000','#8b0000');
marker(g,'^',688,1420,'#d00','#d00');marker(g,'^',705,1420,'#d00','#d00');
label(720,1405,'A<tspan dy="4" font-size="9">V</tspan><tspan dy="-4"> 538.29 </tspan><tspan font-family="Liberation Serif" font-style="italic">μ</tspan>m',{'font-size':13,class:'idl'},'h-legend-entry');
label(720,1425,'A<tspan dy="4" font-size="9">V</tspan><tspan dy="-4"> 12.407 </tspan><tspan font-family="Liberation Serif" font-style="italic">μ</tspan>m',{'font-size':13,class:'idl'},'h-legend-entry');
const r2=el('rect',{x:1011,y:1389,width:126,height:42,fill:'#fff',stroke:'#000',rx:2});


const g2=el('g',{});
tick(1022,1400,1039,1400,'#00f',g2);marker(g2,'o',1022,1400,'#00f','#00f');marker(g2,'o',1039,1400,'#00f','#00f');
marker(g2,'s',1022,1419,'#00f','#00f');marker(g2,'s',1039,1419,'#00f','#00f');
label(1052,1405,'<tspan font-family="Liberation Serif" font-style="italic">χ</tspan> 538.29 <tspan font-family="Liberation Serif" font-style="italic">μ</tspan>m',{'font-size':13,class:'idl'},'h-legend-entry');
label(1052,1424,'<tspan font-family="Liberation Serif" font-style="italic">χ</tspan> 12.407 <tspan font-family="Liberation Serif" font-style="italic">μ</tspan>m',{'font-size':13,class:'idl'},'h-legend-entry');})();
</script>
</body></html>
